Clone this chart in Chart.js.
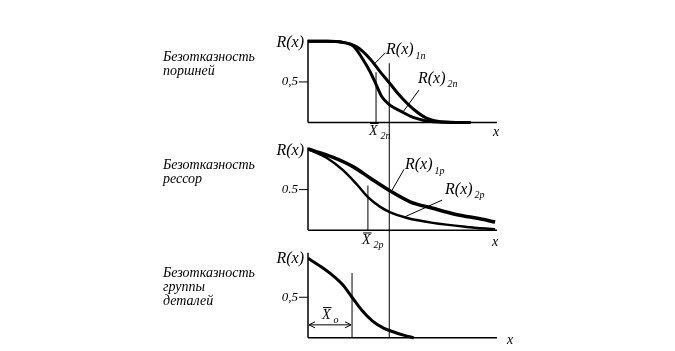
<!DOCTYPE html>
<html>
<head>
<meta charset="utf-8">
<script src="https://cdn.jsdelivr.net/npm/chart.js@4.4.1/dist/chart.umd.min.js"></script>
<style>
  html, body { margin: 0; padding: 0; background: #fff; }
  #wrap { position: relative; width: 675px; height: 351px; }
</style>
</head>
<body>
<div id="wrap"><canvas id="reliab" width="675" height="351"></canvas></div>
<script>
// operating time x (arbitrary units 0..10) and reliability R(x)
const xPiston1 = [0, 1.0, 1.8, 2.6, 3.3, 3.8, 4.3, 4.9, 5.6, 6.3, 7.0, 8.6];
const rPiston1 = [1, 1, 0.99, 0.93, 0.78, 0.63, 0.49, 0.32, 0.16, 0.05, 0.01, 0];
const xPiston2 = [0, 1.0, 1.8, 2.4, 2.9, 3.3, 3.6, 3.9, 4.3, 4.9, 5.6, 6.6, 8.6];
const rPiston2 = [1, 1, 0.99, 0.94, 0.78, 0.62, 0.47, 0.32, 0.22, 0.14, 0.06, 0.01, 0];

const xSpring1 = [0, 1.3, 2.4, 3.3, 4.3, 5.4, 6.6, 7.9, 9.1, 9.9];
const rSpring1 = [1, 0.9, 0.78, 0.64, 0.49, 0.35, 0.27, 0.19, 0.14, 0.10];
const xSpring2 = [0, 1.0, 1.85, 2.6, 3.2, 3.8, 4.35, 5.25, 6.6, 8.4, 9.9];
const rSpring2 = [1, 0.89, 0.74, 0.56, 0.40, 0.29, 0.22, 0.15, 0.09, 0.04, 0.01];

const xGroup = [0, 0.6, 1.3, 1.85, 2.33, 2.85, 3.4, 4.0, 4.5, 5.1, 5.6];
const rGroup = [0.98, 0.89, 0.77, 0.65, 0.50, 0.34, 0.21, 0.12, 0.075, 0.03, 0];

// mean times: X2п, X2р, Xо and the common limit line
const xMeans = [3.6, 3.17, 2.33];
const xCommon = 4.3;

const panels = ['y1', 'y2', 'y3'];
const tickLabels = ['0,5', '0.5', '0,5'];
const panelTitles = [
  ['Безотказность', 'поршней'],
  ['Безотказность', 'рессор'],
  ['Безотказность', 'группы', 'деталей']
];
const curveLabels = [
  { axis: 'y1', sub: '1п', x: 4.13, r: 0.895, from: [3.5, 0.72], to: [4.1, 0.86] },
  { axis: 'y1', sub: '2п', x: 5.82, r: 0.54, from: [5.03, 0.13], to: [5.87, 0.40] },
  { axis: 'y2', sub: '1р', x: 5.13, r: 0.80, from: [4.44, 0.49], to: [5.08, 0.75] },
  { axis: 'y2', sub: '2р', x: 7.25, r: 0.50, from: [5.08, 0.16], to: [7.09, 0.37] }
];
const meanLabels = [
  { axis: 'y1', sub: '2п', x: 3.23, r: -0.105, top: 0.62 },
  { axis: 'y2', sub: '2р', x: 2.86, r: -0.127, top: 0.55 },
  { axis: 'y3', sub: 'о', x: 0.74, r: 0.28, top: 0.80 }
];
const axisTop = [1.02, 1.02, 1.05];
const xLabelPos = [[9.79, -0.12], [9.74, -0.15], [10.53, -0.03]];

function curve(xs, rs, axis, width) {
  return {
    data: xs.map((x, i) => ({ x: x, y: rs[i] })),
    yAxisID: axis,
    borderColor: '#000',
    borderWidth: width,
    pointRadius: 0,
    cubicInterpolationMode: 'monotone',
    fill: false
  };
}

function vline(x, top, axis) {
  return {
    data: [{ x: x, y: 0 }, { x: x, y: top }],
    yAxisID: axis,
    borderColor: '#000',
    borderWidth: 1,
    pointRadius: 0
  };
}

const sketch = {
  id: 'sketch',
  afterDatasetsDraw(chart) {
    const ctx = chart.ctx;
    const sx = chart.scales.x;
    const P = (axis, x, r) => [sx.getPixelForValue(x), chart.scales[axis].getPixelForValue(r)];
    const line = (x1, y1, x2, y2) => { ctx.beginPath(); ctx.moveTo(x1, y1); ctx.lineTo(x2, y2); ctx.stroke(); };
    const serif = '"Liberation Serif", "DejaVu Serif", serif';

    ctx.save();
    ctx.strokeStyle = '#000';
    ctx.fillStyle = '#000';
    ctx.textBaseline = 'middle';

    panels.forEach((axis, i) => {
      const [x0, y0] = P(axis, 0, 0);
      const [, yt] = P(axis, 0, axisTop[i]);
      const [xe] = P(axis, 10, 0);
      ctx.lineWidth = 1.5;
      line(x0, yt, x0, y0);
      line(x0, y0, xe, y0);
      const [, yh] = P(axis, 0, 0.5);
      ctx.lineWidth = 1;
      line(x0 - 9, yh, x0, yh);

      ctx.textAlign = 'right';
      ctx.font = 'italic 13px ' + serif;
      ctx.fillText(tickLabels[i], x0 - 10, yh);
      ctx.font = 'italic 16px ' + serif;
      const [, yr] = P(axis, 0, 0.98);
      ctx.fillText('R(x)', x0 - 4, yr);

      ctx.textAlign = 'left';
      ctx.font = 'italic 14px ' + serif;
      const [xl, yl] = P(axis, xLabelPos[i][0], xLabelPos[i][1]);
      ctx.fillText('x', xl, yl);

      ctx.font = 'italic 14px ' + serif;
      const [, ys] = P(axis, 0, 0.80);
      panelTitles[i].forEach((t, k) => ctx.fillText(t, chart.chartArea.left - 145, ys + k * 14));
    });

    // common vertical line through all three panels
    ctx.lineWidth = 1;
    const [xc, yc1] = P('y1', xCommon, 0.73);
    const [, yc3] = P('y3', xCommon, 0);
    line(xc, yc1, xc, yc3);

    // curve labels with leaders
    curveLabels.forEach(c => {
      const [fx, fy] = P(c.axis, c.from[0], c.from[1]);
      const [tx, ty] = P(c.axis, c.to[0], c.to[1]);
      ctx.lineWidth = 1;
      line(fx, fy, tx, ty);
      const [lx, ly] = P(c.axis, c.x, c.r);
      ctx.textAlign = 'left';
      ctx.font = 'italic 16px ' + serif;
      ctx.fillText('R(x)', lx, ly);
      const w = ctx.measureText('R(x)').width;
      ctx.font = 'italic 10px ' + serif;
      ctx.fillText(c.sub, lx + w + 2, ly + 6);
    });

    // mean time labels X̄
    meanLabels.forEach(m => {
      const [lx, ly] = P(m.axis, m.x, m.r);
      ctx.textAlign = 'left';
      ctx.font = 'italic 14px ' + serif;
      ctx.fillText('X', lx, ly);
      const w = ctx.measureText('X').width;
      ctx.lineWidth = 1;
      line(lx + 1, ly - 7.5, lx + w + 1, ly - 7.5);
      ctx.font = 'italic 10px ' + serif;
      ctx.fillText(m.sub, lx + w + 3, ly + 5);
    });

    // double arrow for Xо
    const [ax0, ay] = P('y3', 0, 0.16);
    const [ax1] = P('y3', xMeans[2], 0.16);
    ctx.lineWidth = 1;
    line(ax0 + 1, ay, ax1 - 1, ay);
    line(ax0 + 1, ay, ax0 + 7, ay - 3); line(ax0 + 1, ay, ax0 + 7, ay + 3);
    line(ax1 - 1, ay, ax1 - 7, ay - 3); line(ax1 - 1, ay, ax1 - 7, ay + 3);

    ctx.restore();
  }
};

const datasets = [
  curve(xPiston1, rPiston1, 'y1', 3),
  curve(xPiston2, rPiston2, 'y1', 3),
  curve(xSpring1, rSpring1, 'y2', 3.5),
  curve(xSpring2, rSpring2, 'y2', 2.5),
  curve(xGroup, rGroup, 'y3', 3)
];
meanLabels.forEach((m, i) => datasets.push(vline(xMeans[i], m.top, m.axis)));

const yScale = () => ({ type: 'linear', min: -0.15, max: 1.177, display: false, position: 'left', stack: 'panels' });

// stacked left axes are laid out last-defined on top, so y1 goes last
new Chart(document.getElementById('reliab'), {
  type: 'line',
  data: { datasets: datasets },
  options: {
    responsive: false,
    animation: false,
    layout: { padding: { left: 308, right: 178, top: 27, bottom: 1 } },
    plugins: { legend: { display: false }, tooltip: { enabled: false } },
    scales: {
      x: { type: 'linear', min: 0, max: 10, display: false },
      y3: yScale(),
      y2: yScale(),
      y1: yScale()
    }
  },
  plugins: [sketch]
});
</script>
</body>
</html>
